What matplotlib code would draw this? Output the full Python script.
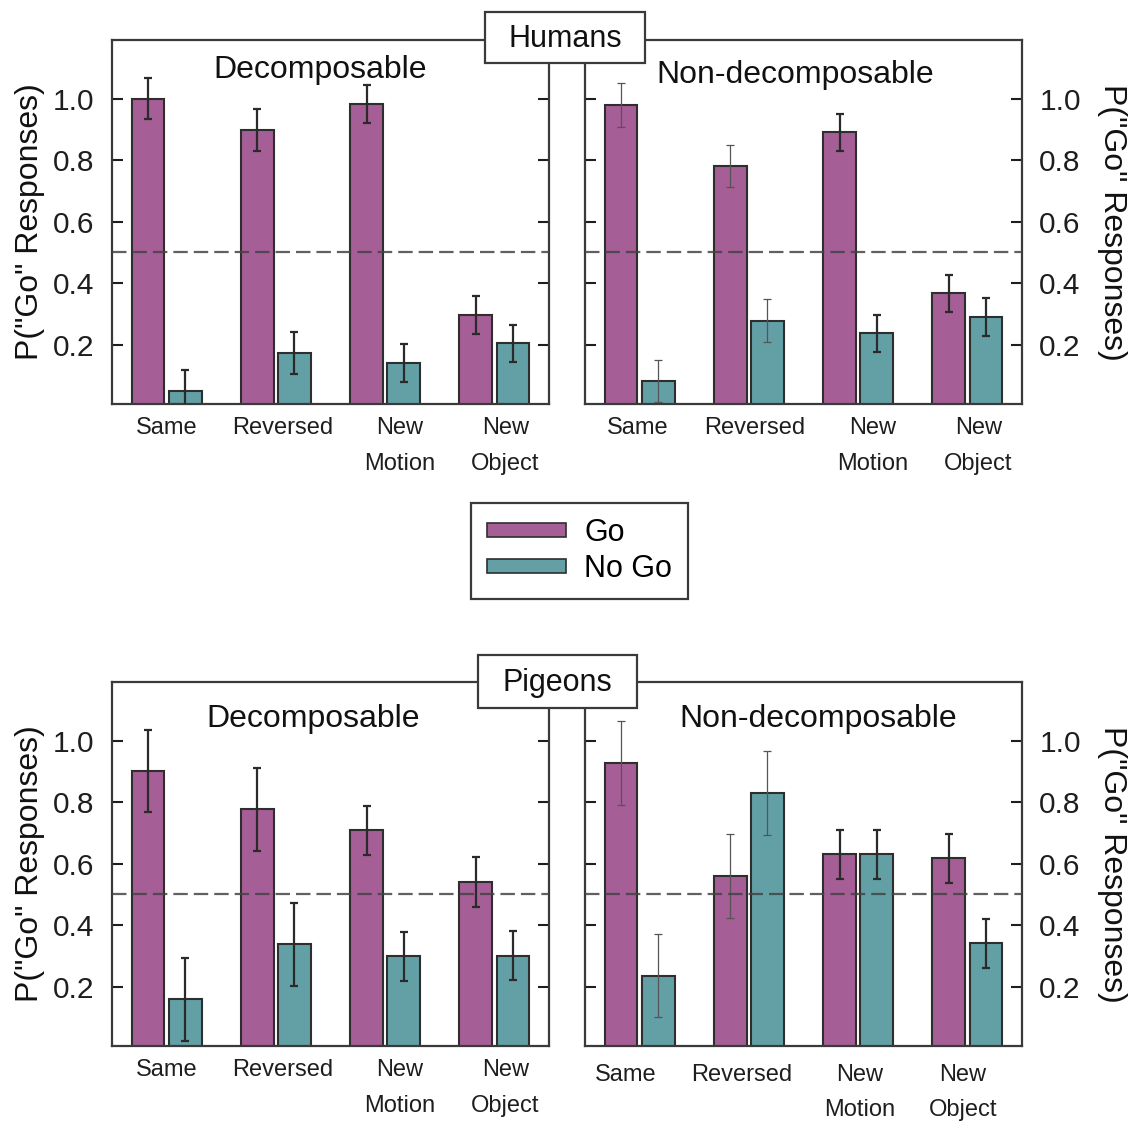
import numpy as np
import matplotlib.pyplot as plt
from matplotlib.patches import Rectangle, Patch

plt.rcParams['font.family'] = ['Liberation Sans', 'DejaVu Sans']

conditions = ["Same", "Reversed", "New\nMotion", "New\nObject"]

# Humans
humans_decomp_go = [1.00, 0.897, 0.982, 0.296]
humans_decomp_go_err = [0.068, 0.068, 0.061, 0.062]
humans_decomp_nogo = [0.049, 0.173, 0.141, 0.205]
humans_decomp_nogo_err = [0.068, 0.068, 0.062, 0.060]
humans_nondecomp_go = [0.979, 0.781, 0.890, 0.368]
humans_nondecomp_go_err = [0.070, 0.069, 0.061, 0.060]
humans_nondecomp_nogo = [0.084, 0.278, 0.238, 0.290]
humans_nondecomp_nogo_err = [0.068, 0.070, 0.060, 0.061]

# Pigeons
pigeons_decomp_go = [0.901, 0.777, 0.708, 0.541]
pigeons_decomp_go_err = [0.134, 0.135, 0.080, 0.081]
pigeons_decomp_nogo = [0.160, 0.338, 0.299, 0.301]
pigeons_decomp_nogo_err = [0.135, 0.135, 0.080, 0.080]
pigeons_nondecomp_go = [0.927, 0.560, 0.630, 0.617]
pigeons_nondecomp_go_err = [0.137, 0.135, 0.080, 0.080]
pigeons_nondecomp_nogo = [0.236, 0.829, 0.630, 0.341]
pigeons_nondecomp_nogo_err = [0.135, 0.136, 0.080, 0.080]

GO = '#a65e96'
NOGO = '#62a0a6'
EDGE = '#2e2e2e'

W, H = 1131, 1123
fig = plt.figure(figsize=(W / 100, H / 100), dpi=100)


def draw_panel(rect, go, go_err, nogo, nogo_err, title, title_xy, right,
               err_lw, label_dx, label_pad, lspace=1.8):
    ax = fig.add_axes(rect)
    x = np.arange(len(go))
    ax.bar(x - 0.17, go, 0.3, color=GO, edgecolor=EDGE, linewidth=1.5, zorder=2)
    ax.bar(x + 0.17, nogo, 0.3, color=NOGO, edgecolor=EDGE, linewidth=1.5, zorder=2)
    for i in range(len(go)):
        ec = '#2a2a2a' if err_lw[i] > 1 else '#555555'
        ax.errorbar(x[i] - 0.17, go[i], yerr=go_err[i], fmt='none', ecolor=ec,
                    elinewidth=err_lw[i], capsize=3.2, capthick=err_lw[i], zorder=3)
        ax.errorbar(x[i] + 0.17, nogo[i], yerr=nogo_err[i], fmt='none', ecolor=ec,
                    elinewidth=err_lw[i], capsize=3.2, capthick=err_lw[i], zorder=3)
    ax.axhline(0.5, color='#444444', lw=1.6, dashes=(6.5, 2.7), alpha=0.85, zorder=4)

    ax.set_xlim(-0.5, 3.5)
    ax.set_ylim(0.008, 1.19)
    ax.set_yticks([0.2, 0.4, 0.6, 0.8, 1.0])
    ax.set_yticklabels(['0.2', '0.4', '0.6', '0.8', '1.0'], fontsize=21.5)
    ax.set_xticks(x + np.array(label_dx))
    ax.set_xticklabels(conditions, fontsize=17, linespacing=lspace)
    ax.tick_params(axis='x', length=0, pad=label_pad, colors='#1e1e1e')
    ax.tick_params(axis='y', direction='in', length=8, width=1.5, left=True,
                   right=True, labelleft=not right, labelright=right,
                   pad=12.5, colors='#1e1e1e')
    for s in ax.spines.values():
        s.set_linewidth(1.6)
        s.set_color('#3a3a3a')

    ax.text(title_xy[0], title_xy[1], title, transform=ax.transAxes,
            fontsize=23, ha='center', va='center', color='#111111')
    ylab = 'P("Go" Responses)'
    if right:
        ax.text(1.207, 0.5, ylab, transform=ax.transAxes, rotation=270,
                fontsize=23, ha='center', va='center', color='#111111')
    else:
        ax.text(-0.188, 0.5, ylab, transform=ax.transAxes, rotation=90,
                fontsize=23, ha='center', va='center', color='#111111')
    return ax


thick = [1.6, 1.6, 1.6, 1.6]
mixed = [0.9, 0.9, 1.6, 1.6]
aw, ah = 437 / W, 364 / H
left_x, right_x = 112 / W, 585 / W
top_y, bot_y = 1 - 404 / H, 1 - 1046 / H

draw_panel([left_x, top_y, aw, ah], humans_decomp_go, humans_decomp_go_err,
           humans_decomp_nogo, humans_decomp_nogo_err, 'Decomposable',
           (0.476, 0.918), False, thick, [0, 0.06, 0.13, 0.1], 9.5)
draw_panel([right_x, top_y, aw, ah], humans_nondecomp_go, humans_nondecomp_go_err,
           humans_nondecomp_nogo, humans_nondecomp_nogo_err, 'Non-decomposable',
           (0.48, 0.904), True, mixed, [-0.02, 0.055, 0.13, 0.1], 9.5)
draw_panel([left_x, bot_y, aw, ah], pigeons_decomp_go, pigeons_decomp_go_err,
           pigeons_decomp_nogo, pigeons_decomp_nogo_err, 'Decomposable',
           (0.46, 0.898), False, thick, [0, 0.06, 0.13, 0.1], 9.5)
draw_panel([right_x, bot_y, aw, ah], pigeons_nondecomp_go, pigeons_nondecomp_go_err,
           pigeons_nondecomp_nogo, pigeons_nondecomp_nogo_err, 'Non-decomposable',
           (0.533, 0.898), True, mixed, [-0.13, -0.07, 0.01, -0.04], 13, 1.75)

# group title boxes
for label, (x0, x1, y0, y1) in [('Humans', (485, 645, 12, 63)),
                                ('Pigeons', (478, 637, 655, 708))]:
    fig.patches.append(Rectangle((x0 / W, 1 - y1 / H), (x1 - x0) / W, (y1 - y0) / H,
                                 transform=fig.transFigure, facecolor='white',
                                 edgecolor='#3a3a3a', linewidth=1.6, zorder=5))
    fig.text((x0 + x1) / 2 / W, 1 - (y0 + y1 + 3) / 2 / H, label, fontsize=22,
             ha='center', va='center', zorder=6, color='#111111')

handles = [Patch(facecolor=GO, edgecolor=EDGE, linewidth=1.2, label='Go'),
           Patch(facecolor=NOGO, edgecolor=EDGE, linewidth=1.2, label='No Go')]
leg = fig.legend(handles=handles, loc='center', bbox_to_anchor=(579.5 / W, 1 - 551 / H),
                 fontsize=22, handlelength=2.6, handleheight=0.35, handletextpad=0.6,
                 labelspacing=0.2, borderpad=0.5, fancybox=False, framealpha=1,
                 edgecolor='#3a3a3a')
leg.get_frame().set_linewidth(1.6)

fig.savefig('out.png', dpi=100)
